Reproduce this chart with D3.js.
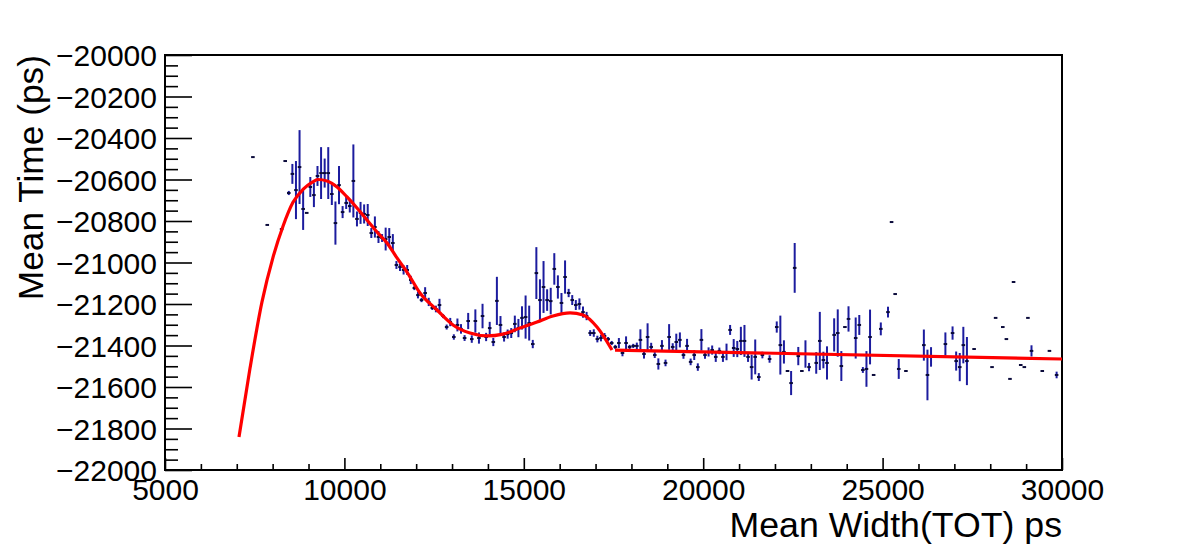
<!DOCTYPE html>
<html>
<head>
<meta charset="utf-8">
<script src="https://cdn.jsdelivr.net/npm/d3@7"></script>
<style>
  html, body { margin: 0; padding: 0; background: #fff; }
  svg { display: block; }
  text { font-family: "Liberation Sans", Arial, Helvetica, sans-serif; }
</style>
</head>
<body>
<svg id="chart" width="1182" height="555"></svg>
<script>
// ---- data ----
const xValues = [7450,7850,8250,8350,8450,8550,8650,8750,8850,8950,9050,9150,9250,9350,9450,9550,9650,9750,9850,9950,
  10050,10150,10250,10350,10450,10550,10650,10750,10850,10950,11050,11150,11250,11350,11450,11550,11650,11750,
  11850,11950,12050,12150,12250,12350,12450,12550,12650,12750,12850,12950,13050,13150,13250,13350,13450,13550,13650,13750,13850,13950,
  14050,14150,14250,14350,14450,14550,14650,14750,14850,14950,15050,15150,15250,15350,15450,15550,15650,15750,15850,15950,
  16050,16150,16250,16350,16450,16550,16650,16750,16850,16950,17050,17150,17250,17350,17450,17550,17650,17750,17850,17950,
  18050,18150,18250,18350,18450,18550,18650,18750,18850,18950,19050,19150,19250,19350,19450,19550,19650,19750,19850,19950,
  20050,20150,20250,20350,20450,20550,20650,20750,20850,20950,21050,21150,21250,21350,21450,21550,21650,21850,22050,22150,
  22250,22350,22450,22550,22650,22750,22850,22950,23150,23250,23350,23450,23650,23750,23850,23950,24050,24250,24350,24450,
  24550,24650,24750,24950,25150,25250,25350,25450,25650,26150,26250,26350,26750,26950,27050,27150,27250,27350,27550,
  28050,28150,28350,28450,28550,28650,28850,28950,29050,29150,29450,29650,29850];
const meanTimes = [-20492,-20819,-20839,-20511,-20665,-20573,-20651,-20540,-20742,-20761,-20636,-20675,-20583,-20569,-20569,-20569,-20670,-20810,-20627,-20757,
  -20713,-20728,-20607,-20790,-20761,-20766,-20771,-20858,-20829,-20877,-20882,-20887,-20877,-20906,-21012,-21022,-21036,-21036,
  -21084,-21123,-21157,-21181,-21147,-21190,-21219,-21224,-21205,-21258,-21311,-21287,-21359,-21301,-21320,-21364,-21282,-21369,-21282,-21364,-21258,-21359,
  -21316,-21383,-21185,-21301,-21359,-21345,-21340,-21296,-21316,-21267,-21263,-21292,-21393,-21051,-21181,-21118,-21181,-21186,-21031,-21118,
  -21195,-21070,-21147,-21181,-21205,-21200,-21239,-21258,-21340,-21340,-21369,-21364,-21354,-21369,-21388,-21407,-21388,-21436,-21388,-21407,
  -21402,-21402,-21373,-21441,-21359,-21407,-21446,-21489,-21402,-21484,-21359,-21407,-21383,-21373,-21446,-21402,-21479,-21446,-21504,-21373,
  -21446,-21431,-21422,-21455,-21426,-21455,-21431,-21325,-21412,-21417,-21378,-21378,-21455,-21504,-21455,-21552,-21446,-21465,-21311,-21398,
  -21431,-21523,-21581,-21026,-21451,-21523,-21441,-21504,-21484,-21378,-21470,-21484,-21349,-21340,-21499,-21311,-21272,-21364,-21301,-21518,
  -21513,-21359,-21542,-21320,-21239,-20805,-21152,-21513,-21523,-21398,-21542,-21455,-21393,-21340,-21475,-21504,-21398,-21475,-21417,
  -21504,-21267,-21311,-21369,-21561,-21094,-21494,-21504,-21267,-21426,-21523,-21426,-21542];
const timeErrors = [0,0,5,0,10,48,140,178,101,0,48,58,48,125,70,125,53,104,92,29,
  29,31,176,36,53,46,53,24,51,29,19,55,43,43,19,19,22,24,
  20,10,16,10,28,20,10,16,30,10,12,20,13,31,23,14,39,18,56,27,59,20,
  30,20,116,43,22,22,24,40,44,56,104,84,20,125,100,125,52,64,76,56,
  48,80,20,24,24,27,27,20,14,18,16,16,14,10,10,10,24,16,32,10,
  10,16,51,22,66,20,14,27,28,16,62,18,40,36,18,34,16,24,18,52,
  18,22,22,24,16,24,40,24,43,39,68,77,24,60,84,19,16,18,27,142,
  56,0,58,120,44,0,66,20,52,140,40,80,80,114,72,0,61,99,48,14,
  86,132,0,31,26,0,0,48,0,75,122,47,56,32,46,68,88,116,0,
  0,0,0,0,0,0,0,0,0,27,0,0,16];
const binHalfWidth = 50;

// fit function (first range)
const fitX = [7062,7369,7703,8010,8289,8567,8846,9097,9264,9515,9794,10073,10351,10630,10909,11188,11466,11745,
  12107,12581,13027,13501,13974,14420,14894,15368,15814,16288,16650,17040,17458];
const fitY = [-21841,-21510,-21190,-20975,-20825,-20710,-20648,-20614,-20600,-20607,-20636,-20684,-20737,-20795,-20853,-20906,-20978,-21046,
  -21147,-21229,-21301,-21340,-21354,-21345,-21316,-21287,-21258,-21243,-21253,-21311,-21422];
// fit function (second range, linear)
const lineFitX = [17542, 30000];
const lineFitY = [-21422, -21465];

const xMajorTicks = [5000,10000,15000,20000,25000,30000];
const yMajorTicks = [-22000,-21800,-21600,-21400,-21200,-21000,-20800,-20600,-20400,-20200,-20000];

const xTitle = "Mean Width(TOT) ps";
const yTitle = "Mean Time (ps)";

// ---- layout ----
const W = 1182, H = 555;
const m = {left: 165, right: 120, top: 55, bottom: 85};
const svg = d3.select("#chart");
const x = d3.scaleLinear().domain([5000, 30000]).range([m.left, W - m.right]);
const y = d3.scaleLinear().domain([-22000, -20000]).range([H - m.bottom, m.top]);

const fmt = d => d3.format("d")(d).replace("-", "\u2212");

// minor ticks
const xMinor = d3.range(5000, 30001, 1000).filter(v => !xMajorTicks.includes(v));
const yMinor = d3.range(-22000, -19999, 50).filter(v => !yMajorTicks.includes(v));

const gxMinor = svg.append("g").attr("transform", `translate(0,${H - m.bottom})`)
  .call(d3.axisBottom(x).tickValues(xMinor).tickSize(-6).tickFormat(""));
const gx = svg.append("g").attr("transform", `translate(0,${H - m.bottom})`)
  .call(d3.axisBottom(x).tickValues(xMajorTicks).tickSize(-12).tickPadding(9).tickFormat(fmt));
const gyMinor = svg.append("g").attr("transform", `translate(${m.left},0)`)
  .call(d3.axisLeft(y).tickValues(yMinor).tickSize(-13).tickFormat(""));
const gy = svg.append("g").attr("transform", `translate(${m.left},0)`)
  .call(d3.axisLeft(y).tickValues(yMajorTicks).tickSize(-27).tickPadding(8).tickFormat(fmt));

[gxMinor, gx, gyMinor, gy].forEach(g => {
  g.select(".domain").remove();
  g.selectAll(".tick line").attr("stroke", "#000").attr("stroke-width", 1.6);
  g.selectAll("text").attr("font-size", 30).attr("fill", "#000")
    .style("font-family", '"Liberation Sans", Arial, sans-serif');
});
gy.selectAll("text").attr("dy", "0.36em");

// frame
svg.append("rect")
  .attr("x", m.left).attr("y", m.top)
  .attr("width", W - m.left - m.right).attr("height", H - m.top - m.bottom)
  .attr("fill", "none").attr("stroke", "#000").attr("stroke-width", 2);

// data points
const pts = xValues.map((xv, i) => ({x: xv, y: meanTimes[i], e: timeErrors[i]}));
const gp = svg.append("g");
gp.selectAll("line.ey").data(pts.filter(d => d.e > 0)).enter().append("line")
  .attr("class", "ey")
  .attr("x1", d => x(d.x)).attr("x2", d => x(d.x))
  .attr("y1", d => y(d.y + d.e)).attr("y2", d => y(d.y - d.e))
  .attr("stroke", "#1c1c9e").attr("stroke-width", 2);
gp.selectAll("line.ex").data(pts).enter().append("line")
  .attr("class", "ex")
  .attr("x1", d => x(d.x - binHalfWidth)).attr("x2", d => x(d.x + binHalfWidth))
  .attr("y1", d => y(d.y)).attr("y2", d => y(d.y))
  .attr("stroke", "#0a0a3a").attr("stroke-width", 2);

// fit curves
const fitLine = d3.line().x(d => x(d[0])).y(d => y(d[1])).curve(d3.curveMonotoneX);
svg.append("path").datum(fitX.map((v, i) => [v, fitY[i]]))
  .attr("d", fitLine).attr("fill", "none").attr("stroke", "#ff0000").attr("stroke-width", 3.2);
svg.append("path").datum(lineFitX.map((v, i) => [v, lineFitY[i]]))
  .attr("d", d3.line().x(d => x(d[0])).y(d => y(d[1])))
  .attr("fill", "none").attr("stroke", "#ff0000").attr("stroke-width", 3.2);

// axis titles
svg.append("text").attr("x", W - m.right).attr("y", 537)
  .attr("text-anchor", "end").attr("font-size", 35.7).attr("fill", "#000").text(xTitle);
svg.append("text").attr("transform", `translate(43,${m.top}) rotate(-90)`)
  .attr("text-anchor", "end").attr("font-size", 35.3).attr("fill", "#000").text(yTitle);
</script>
</body>
</html>
